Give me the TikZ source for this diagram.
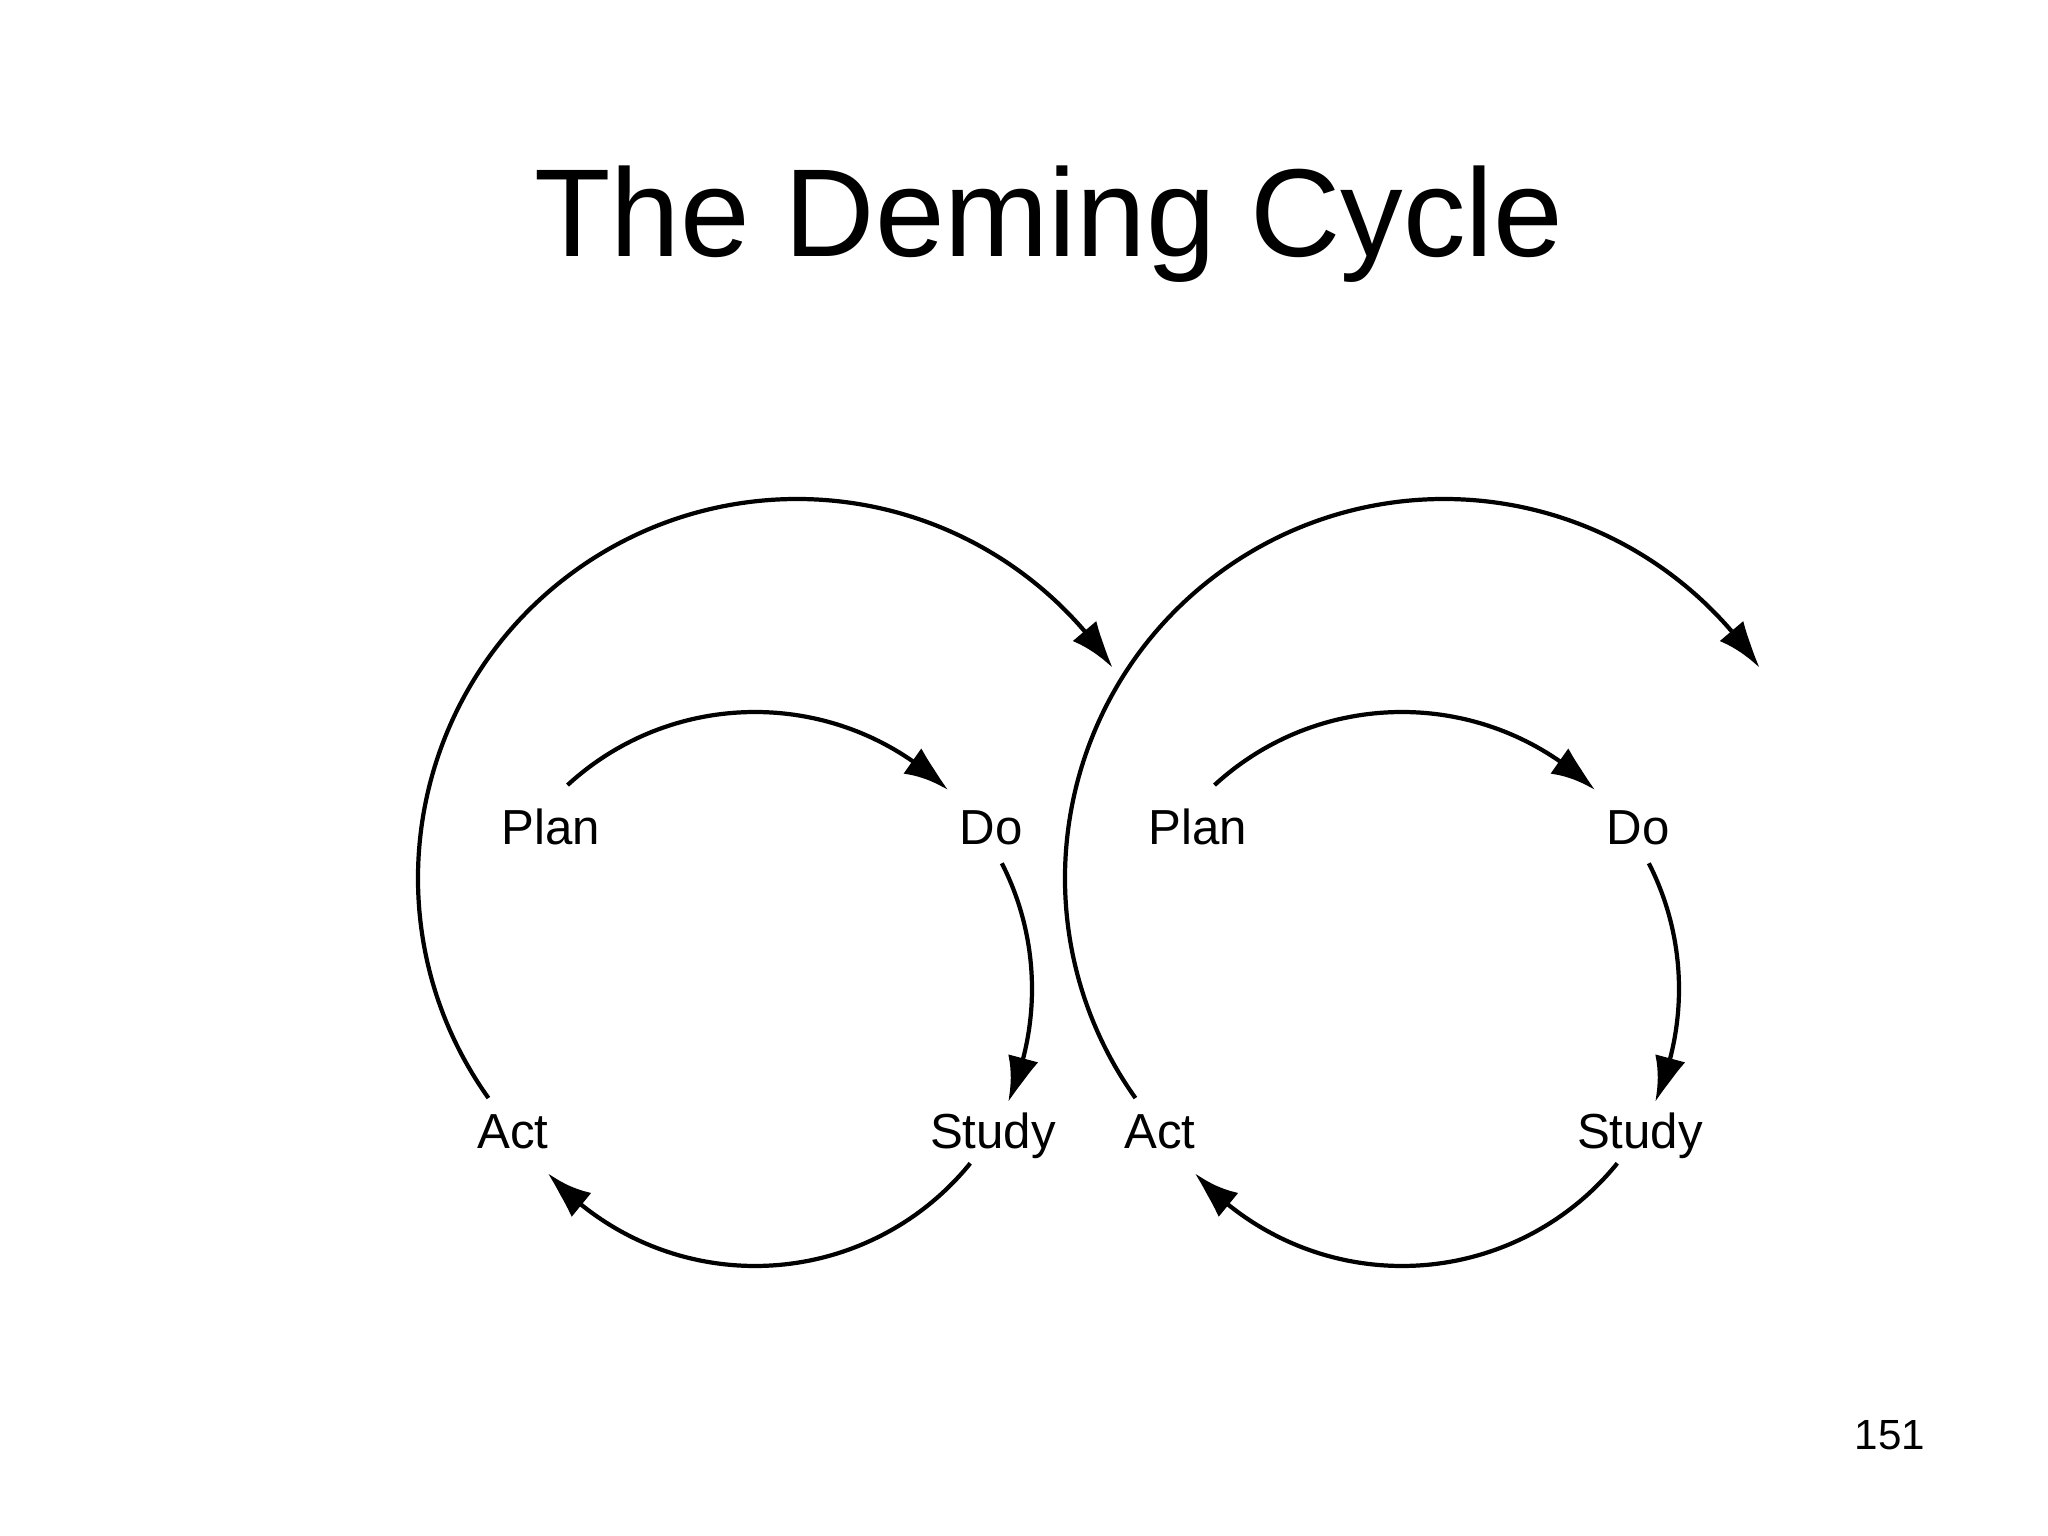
\documentclass[tikz,border=0pt]{standalone}
\usepackage{fontspec}
\setmainfont{Liberation Sans}
\usetikzlibrary{arrows.meta,bending}
\begin{document}
\begin{tikzpicture}[
  cyc/.style={line width=1.2pt, -{Latex[length=4.6mm,width=3.1mm,bend]}},
  lbl/.style={inner sep=0pt, anchor=base, font=\fontsize{14}{17}\selectfont},
]
\useasboundingbox[fill=white] (0,0) rectangle (20.48,15.36);
\node[anchor=base, inner sep=0pt, font=\fontsize{35.6}{42}\selectfont] (title) at (10.49,12.79) {The Deming Cycle};
\node[anchor=base, inner sep=0pt, font=\fontsize{12}{14}\selectfont] (page) at (18.90,0.86) {151};

% centres of the circles
\coordinate (oL) at (7.97,6.58);
\coordinate (oR) at (14.44,6.58);
\coordinate (iL) at (7.55,5.47);
\coordinate (iR) at (14.02,5.47);

% labels, left cycle
\node[lbl] (planL) at (5.51,6.91) {Plan};
\node[lbl] (doL) at (9.91,6.91) {Do};
\node[lbl] (actL) at (5.13,3.87) {Act};
\node[lbl] (studyL) at (9.93,3.87) {Study};
% labels, right cycle
\node[lbl] (planR) at (11.98,6.91) {Plan};
\node[lbl] (doR) at (16.38,6.91) {Do};
\node[lbl] (actR) at (11.60,3.87) {Act};
\node[lbl] (studyR) at (16.40,3.87) {Study};

% outer arcs
\foreach \c in {oL,oR}{
  \draw[cyc] ([shift={(215.5:3.79)}]\c) arc[start angle=215.5, end angle=33.7, radius=3.79];
}
% inner arcs
\foreach \c in {iL,iR}{
  \draw[cyc] ([shift={(132.6:2.77)}]\c) arc[start angle=132.6, end angle=45.9, radius=2.77];
  \draw[cyc] ([shift={(27:2.77)}]\c) arc[start angle=27, end angle=-24, radius=2.77];
  \draw[cyc] ([shift={(-39:2.77)}]\c) arc[start angle=-39, end angle=-138.3, radius=2.77];
}
\end{tikzpicture}
\end{document}
